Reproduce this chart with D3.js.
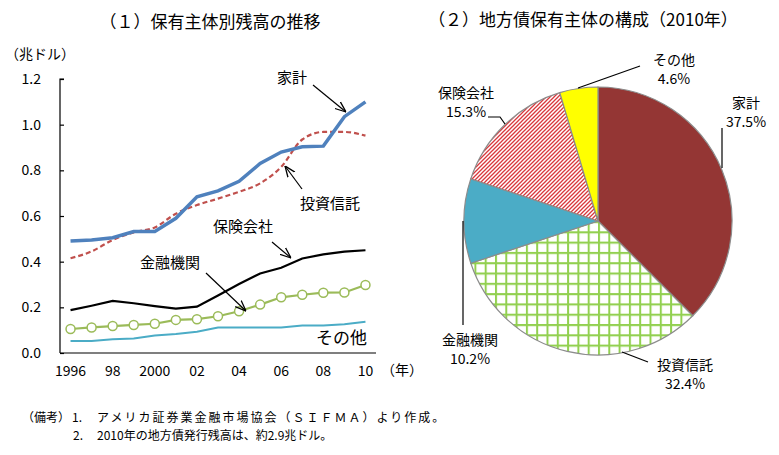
<!DOCTYPE html>
<html><head><meta charset="utf-8">
<script src="https://cdn.jsdelivr.net/npm/d3@7"></script>
<style>
body{margin:0;background:#fff;}
svg{display:block;font-family:"Noto Sans CJK JP","Noto Sans",sans-serif;}
</style></head>
<body><svg id="c" width="779" height="455"></svg>
<script>
const years = [1996,1997,1998,1999,2000,2001,2002,2003,2004,2005,2006,2007,2008,2009,2010];
const household = [0.49,0.495,0.505,0.532,0.532,0.59,0.684,0.71,0.752,0.83,0.88,0.903,0.906,1.035,1.10];
const mutualFunds = [0.415,0.445,0.495,0.528,0.55,0.61,0.648,0.676,0.706,0.743,0.815,0.935,0.968,0.968,0.952];
const insurance = [0.188,0.207,0.228,0.218,0.205,0.194,0.203,0.252,0.302,0.348,0.373,0.414,0.432,0.444,0.45];
const banks = [0.105,0.112,0.118,0.123,0.128,0.145,0.148,0.161,0.183,0.212,0.244,0.255,0.264,0.265,0.298];
const others = [0.053,0.053,0.06,0.064,0.077,0.083,0.093,0.112,0.112,0.112,0.112,0.12,0.12,0.126,0.137];
const yTicks = [0,0.2,0.4,0.6,0.8,1.0,1.2];
const xTickLabels = {1996:"1996",1998:"98",2000:"2000",2002:"02",2004:"04",2006:"06",2008:"08",2010:"10"};

const pieLabels = ["家計","投資信託","金融機関","保険会社","その他"];
const pieValues = [37.5,32.4,10.2,15.3,4.6];

const svg = d3.select("#c");
const defs = svg.append("defs");
const hatch = defs.append("pattern").attr("id","hatch").attr("patternUnits","userSpaceOnUse")
  .attr("width",4).attr("height",4);
hatch.append("rect").attr("width",4).attr("height",4).attr("fill","#fff");
hatch.append("path").attr("d","M-1,1 l2,-2 M0,4 l4,-4 M3,5 l2,-2").attr("stroke","#D9373C").attr("stroke-width",1.3);
const grid = defs.append("pattern").attr("id","grid").attr("patternUnits","userSpaceOnUse")
  .attr("width",10.3).attr("height",10.3).attr("x",0).attr("y",0);
grid.append("rect").attr("width",10.3).attr("height",10.3).attr("fill","#fff");
grid.append("path").attr("d","M1,0 V10.3 M0,1 H10.3").attr("stroke","#92D050").attr("stroke-width",2);

// ---------- Line chart ----------
const x = d3.scalePoint().domain(years).range([60,376]).padding(0.5);
const y = d3.scaleLinear().domain([0,1.2]).range([353,79]);

svg.append("text").attr("x",210).attr("y",28).attr("text-anchor","middle")
  .attr("font-size",17).text("（１）保有主体別残高の推移");
svg.append("text").attr("x",5).attr("y",59).attr("font-size",14).text("（兆ドル）");

const yAxis = d3.axisRight(y).tickValues(yTicks).tickSize(4).tickFormat("");
const gy = svg.append("g").attr("transform",`translate(${x.range()[0]},0)`).call(yAxis);
gy.select(".domain").attr("d",`M4,${y(1.2)}H0V${y(0)}`).attr("stroke","#000").attr("stroke-width",1.2);
gy.selectAll(".tick line").attr("stroke","#000").attr("stroke-width",1.2);
svg.selectAll(".ylab").data(yTicks).join("text").attr("class","ylab")
  .attr("x",41).attr("y",d=>y(d)+5).attr("text-anchor","end").attr("font-size",14)
  .text(d=>d3.format(".1f")(d));
svg.append("line").attr("x1",x.range()[0]).attr("x2",x.range()[1]).attr("y1",y(0)).attr("y2",y(0))
  .attr("stroke","#000").attr("stroke-width",1.2);
svg.selectAll(".xlab").data(years.filter(d=>xTickLabels[d])).join("text").attr("class","xlab")
  .attr("x",d=>x(d)).attr("y",376).attr("text-anchor","middle").attr("font-size",14)
  .text(d=>xTickLabels[d]);
svg.append("text").attr("x",381).attr("y",375).attr("font-size",14).text("（年）");

const line = (vals,curve)=>d3.line().x((d,i)=>x(years[i])).y(d=>y(d)).curve(curve||d3.curveLinear)(vals);
svg.append("path").attr("d",line(others)).attr("fill","none").attr("stroke","#4BACC6").attr("stroke-width",2);
svg.append("path").attr("d",line(banks)).attr("fill","none").attr("stroke","#9BBB59").attr("stroke-width",2.2);
svg.selectAll(".mk").data(banks).join("circle").attr("class","mk")
  .attr("cx",(d,i)=>x(years[i])).attr("cy",d=>y(d)).attr("r",4.5)
  .attr("fill","#fff").attr("stroke","#9BBB59").attr("stroke-width",1.5);
svg.append("path").attr("d",line(insurance)).attr("fill","none").attr("stroke","#000").attr("stroke-width",2.2);
svg.append("path").attr("d",line(mutualFunds,d3.curveMonotoneX)).attr("fill","none").attr("stroke","#C0504D")
  .attr("stroke-width",2.2).attr("stroke-dasharray","5,3");
svg.append("path").attr("d",line(household)).attr("fill","none").attr("stroke","#4F81BD").attr("stroke-width",3.5);

// annotations
defs.append("marker").attr("id","arr").attr("viewBox","0 0 10 10").attr("refX",10).attr("refY",5)
  .attr("markerWidth",9).attr("markerHeight",9).attr("orient","auto-start-reverse")
  .append("path").attr("d","M0,1 L10,5 L0,9").attr("fill","none").attr("stroke","#000").attr("stroke-width",1.2);
const ann = [
  {t:"家計",tx:277,ty:83,x1:313,y1:85,x2:346,y2:112,fs:15},
  {t:"投資信託",tx:300,ty:209,x1:302,y1:189,x2:285,y2:166,fs:15},
  {t:"保険会社",tx:213,ty:232,x1:272,y1:242,x2:291,y2:258,fs:15},
  {t:"金融機関",tx:140,ty:268,x1:206,y1:273,x2:246,y2:311,fs:15},
];
ann.forEach(a=>{
  svg.append("text").attr("x",a.tx).attr("y",a.ty).attr("font-size",a.fs).text(a.t);
  svg.append("line").attr("x1",a.x1).attr("y1",a.y1).attr("x2",a.x2).attr("y2",a.y2)
    .attr("stroke","#000").attr("stroke-width",1.2).attr("marker-end","url(#arr)");
});
svg.append("text").attr("x",316).attr("y",344).attr("font-size",17).text("その他");

// ---------- Pie ----------
svg.append("text").attr("x",583).attr("y",26).attr("text-anchor","middle")
  .attr("font-size",17).text("（２）地方債保有主体の構成（2010年）");
const fills = ["#943634","url(#grid)","#4BACC6","url(#hatch)","#FFFF00"];
const cx=598, cy=221, R=134;
const pie = d3.pie().sort(null).value(d=>d)(pieValues);
const arc = d3.arc().innerRadius(0).outerRadius(R);
const pg = svg.append("g").attr("transform",`translate(${cx},${cy})`);
pg.selectAll("path").data(pie).join("path").attr("d",arc)
  .attr("fill",(d,i)=>fills[i]).attr("stroke","#8c8c8c").attr("stroke-width",1.2);

const pl = [
  {i:0,lx:746,ly:108,pts:[[722,128],[722,168]]},
  {i:1,lx:685,ly:370,pts:[[648,362],[622,352]]},
  {i:2,lx:470,ly:345,pts:[[463,325],[463,221]]},
  {i:3,lx:466,ly:98,pts:[[488,117],[500,117],[505,124]]},
  {i:4,lx:674,ly:65,pts:[[640,66],[578,88]]},
];
pl.forEach(p=>{
  svg.append("text").attr("x",p.lx).attr("y",p.ly).attr("text-anchor","middle").attr("font-size",14).text(pieLabels[p.i]);
  svg.append("text").attr("x",p.lx).attr("y",p.ly+19).attr("text-anchor","middle").attr("font-size",14)
    .text(d3.format(".1f")(pieValues[p.i])+"%");
  svg.append("path").attr("d",d3.line()(p.pts)).attr("fill","none").attr("stroke","#000").attr("stroke-width",1.2);
});

// notes
svg.append("text").attr("x",22).attr("y",422).attr("font-size",12).text("（備考）");
svg.append("text").attr("x",72).attr("y",422).attr("font-size",12).text("1.");
svg.append("text").attr("x",97).attr("y",422).attr("font-size",12).attr("letter-spacing",2)
  .text("アメリカ証券業金融市場協会（ＳＩＦＭＡ）より作成。");
svg.append("text").attr("x",73).attr("y",440).attr("font-size",12).text("2.");
svg.append("text").attr("x",97).attr("y",440).attr("font-size",12).text("2010年の地方債発行残高は、約2.9兆ドル。");
</script></body></html>
